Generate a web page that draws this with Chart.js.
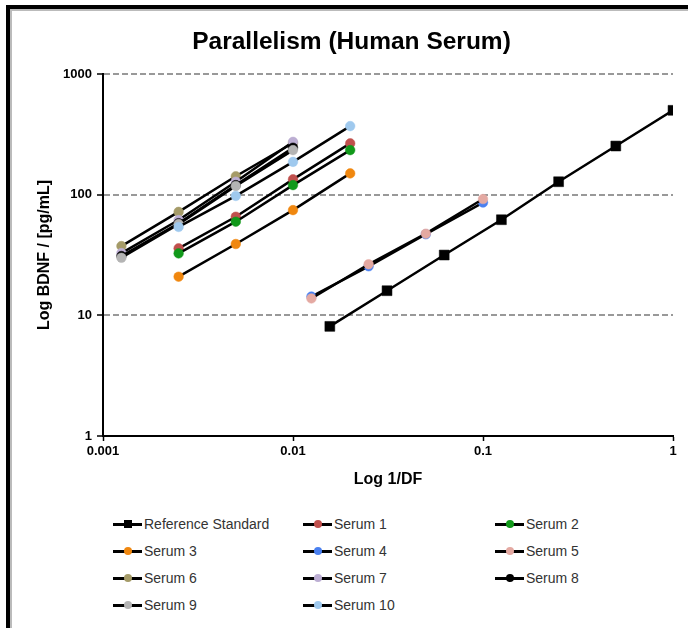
<!DOCTYPE html>
<html>
<head>
<meta charset="utf-8">
<script src="https://cdn.jsdelivr.net/npm/chart.js@4.4.1/dist/chart.umd.min.js"></script>
<style>
  html, body { margin: 0; padding: 0; background: #fff; }
  body { width: 688px; height: 628px; position: relative; overflow: hidden; font-family: "Liberation Sans", Arial, sans-serif; }
  #frame { position: absolute; left: 6px; top: 5px; width: 700px; height: 621px; border-top: 4px solid #000; border-left: 4px solid #000; border-bottom: 1px solid #ccc; box-shadow: inset 2px 2px 0 #bbb; }
  #wrap { position: absolute; left: 0; top: 0; width: 688px; height: 500px; }
  #legend { position: absolute; left: 0; top: 0; }
  .item { position: absolute; height: 20px; display: flex; align-items: center; font-size: 14px; color: #333; white-space: nowrap; }
  .sym { position: relative; width: 29px; height: 20px; margin-right: 2px; }
  .sym .ln { position: absolute; left: 0; right: 0; top: 9px; height: 2.5px; background: #000; }
  .sym .mk { position: absolute; left: 11px; top: 6px; width: 8px; height: 8px; border-radius: 50%; }
  .sym .mk.sq { border-radius: 0; background: #000; }
</style>
</head>
<body>
<div id="frame"></div>
<div id="wrap"><canvas id="chart" width="688" height="500"></canvas></div>
<div id="legend"></div>
<script>
// dilution fractions (1/DF)
const refX = [1/64, 1/32, 1/16, 1/8, 1/4, 1/2, 1];
const leftX = [1/800, 1/400, 1/200, 1/100, 1/50];
const rightX = [1/80, 1/40, 1/20, 1/10];

// measured BDNF, pg/mL
const refStd = [8.1, 16, 31.6, 62, 128, 253, 500];
const serum1 = [null, 35.9, 65.6, 134, 266];
const serum2 = [null, 32.6, 59.7, 120, 234];
const serum3 = [null, 20.9, 39, 74.5, 150];
const serum4 = [14.3, 25.5, 47, 86];
const serum5 = [13.8, 26.5, 47.5, 92];
const serum6 = [37.5, 72, 142, 268, null];
const serum7 = [32.8, 61.6, 128, 274, null];
const serum8 = [31, 58, 120, 245, null];
const serum9 = [30, 57, 118, 234, null];
const serum10 = [null, 54, 97.6, 187, 370];

const xTicks = [0.001, 0.01, 0.1, 1];
const xTickLabels = ['0.001', '0.01', '0.1', '1'];
const yTicks = [1, 10, 100, 1000];
const yTickLabels = ['1', '10', '100', '1000'];

const series = [
  { name: 'Reference Standard', xs: refX, ys: refStd, color: '#000000', square: true },
  { name: 'Serum 1', xs: leftX, ys: serum1, color: '#c0504d' },
  { name: 'Serum 2', xs: leftX, ys: serum2, color: '#11991a' },
  { name: 'Serum 3', xs: leftX, ys: serum3, color: '#f0870f' },
  { name: 'Serum 4', xs: rightX, ys: serum4, color: '#4a80f0' },
  { name: 'Serum 5', xs: rightX, ys: serum5, color: '#e4a9a2' },
  { name: 'Serum 6', xs: leftX, ys: serum6, color: '#a59b68' },
  { name: 'Serum 7', xs: leftX, ys: serum7, color: '#bcaed3' },
  { name: 'Serum 8', xs: leftX, ys: serum8, color: '#000000' },
  { name: 'Serum 9', xs: leftX, ys: serum9, color: '#b4b4b4' },
  { name: 'Serum 10', xs: leftX, ys: serum10, color: '#9fc9ee' }
];

function toPoints(xs, ys) {
  const pts = [];
  xs.forEach((x, i) => { if (ys[i] != null) pts.push({ x: x, y: ys[i] }); });
  return pts;
}

const datasets = series.map((s, i) => ({
  label: s.name,
  data: toPoints(s.xs, s.ys),
  borderColor: '#000',
  borderWidth: 2.5,
  pointStyle: s.square ? 'rect' : 'circle',
  pointRadius: s.square ? 7 : 4.8,
  pointBackgroundColor: s.color,
  pointBorderColor: s.color,
  pointBorderWidth: 0.5,
  order: -i,
  tension: 0
}));

Chart.defaults.font.family = '"Liberation Sans", Arial, sans-serif';
Chart.defaults.color = '#000';

new Chart(document.getElementById('chart'), {
  type: 'line',
  data: { datasets: datasets },
  options: {
    responsive: false,
    animation: false,
    layout: { padding: { left: 30, right: 15, top: 5, bottom: 4 } },
    plugins: {
      legend: { display: false },
      tooltip: { enabled: false },
      title: {
        display: true,
        text: 'Parallelism (Human Serum)',
        font: { size: 24.5, weight: 'bold' },
        color: '#000',
        padding: { top: 22.3, bottom: 17.3 }
      }
    },
    scales: {
      x: {
        type: 'logarithmic',
        min: 0.001,
        max: 1,
        afterBuildTicks: (scale) => { scale.ticks = xTicks.map(v => ({ value: v })); },
        afterFit: (scale) => { scale.height = 60; },
        ticks: {
          autoSkip: false,
          maxRotation: 0,
          font: { size: 13, weight: 'bold' },
          padding: 3,
          callback: (v) => xTickLabels[xTicks.indexOf(v)]
        },
        grid: { drawOnChartArea: false, drawTicks: true, tickLength: 5, tickColor: '#000', tickWidth: 1.5 },
        border: { display: true, color: '#000', width: 2 },
        title: { display: true, text: 'Log 1/DF', font: { size: 16, weight: 'bold' }, padding: { top: 0, bottom: 6.4 } }
      },
      y: {
        type: 'logarithmic',
        min: 1,
        max: 1000,
        afterBuildTicks: (scale) => { scale.ticks = yTicks.map(v => ({ value: v })); },
        afterFit: (scale) => { scale.width = 73; },
        ticks: {
          autoSkip: false,
          font: { size: 13, weight: 'bold' },
          padding: 5,
          callback: (v) => yTickLabels[yTicks.indexOf(v)]
        },
        grid: {
          color: (ctx) => (ctx.tick && ctx.tick.value === 1) ? 'rgba(0,0,0,0)' : '#999',
          lineWidth: 2,
          tickLength: 6,
          tickColor: '#000',
          tickWidth: 1.5,
          tickBorderDash: []
        },
        border: { display: true, color: '#000', width: 2, dash: [6, 3] },
        title: { display: true, text: 'Log BDNF / [pg/mL]', font: { size: 16, weight: 'bold' }, padding: { top: 5.4, bottom: 0 } }
      }
    }
  }
});

// legend in three columns, like the original
const legend = document.getElementById('legend');
const colX = [113, 303, 495];
const rowY = [514, 541, 568, 595];
series.forEach((s, i) => {
  const item = document.createElement('div');
  item.className = 'item';
  item.style.left = colX[i % 3] + 'px';
  item.style.top = rowY[Math.floor(i / 3)] + 'px';
  const mk = s.square ? '<div class="mk sq"></div>' : '<div class="mk" style="background:' + s.color + '"></div>';
  item.innerHTML = '<div class="sym"><div class="ln"></div>' + mk + '</div><span>' + s.name + '</span>';
  legend.appendChild(item);
});
</script>
</body>
</html>
